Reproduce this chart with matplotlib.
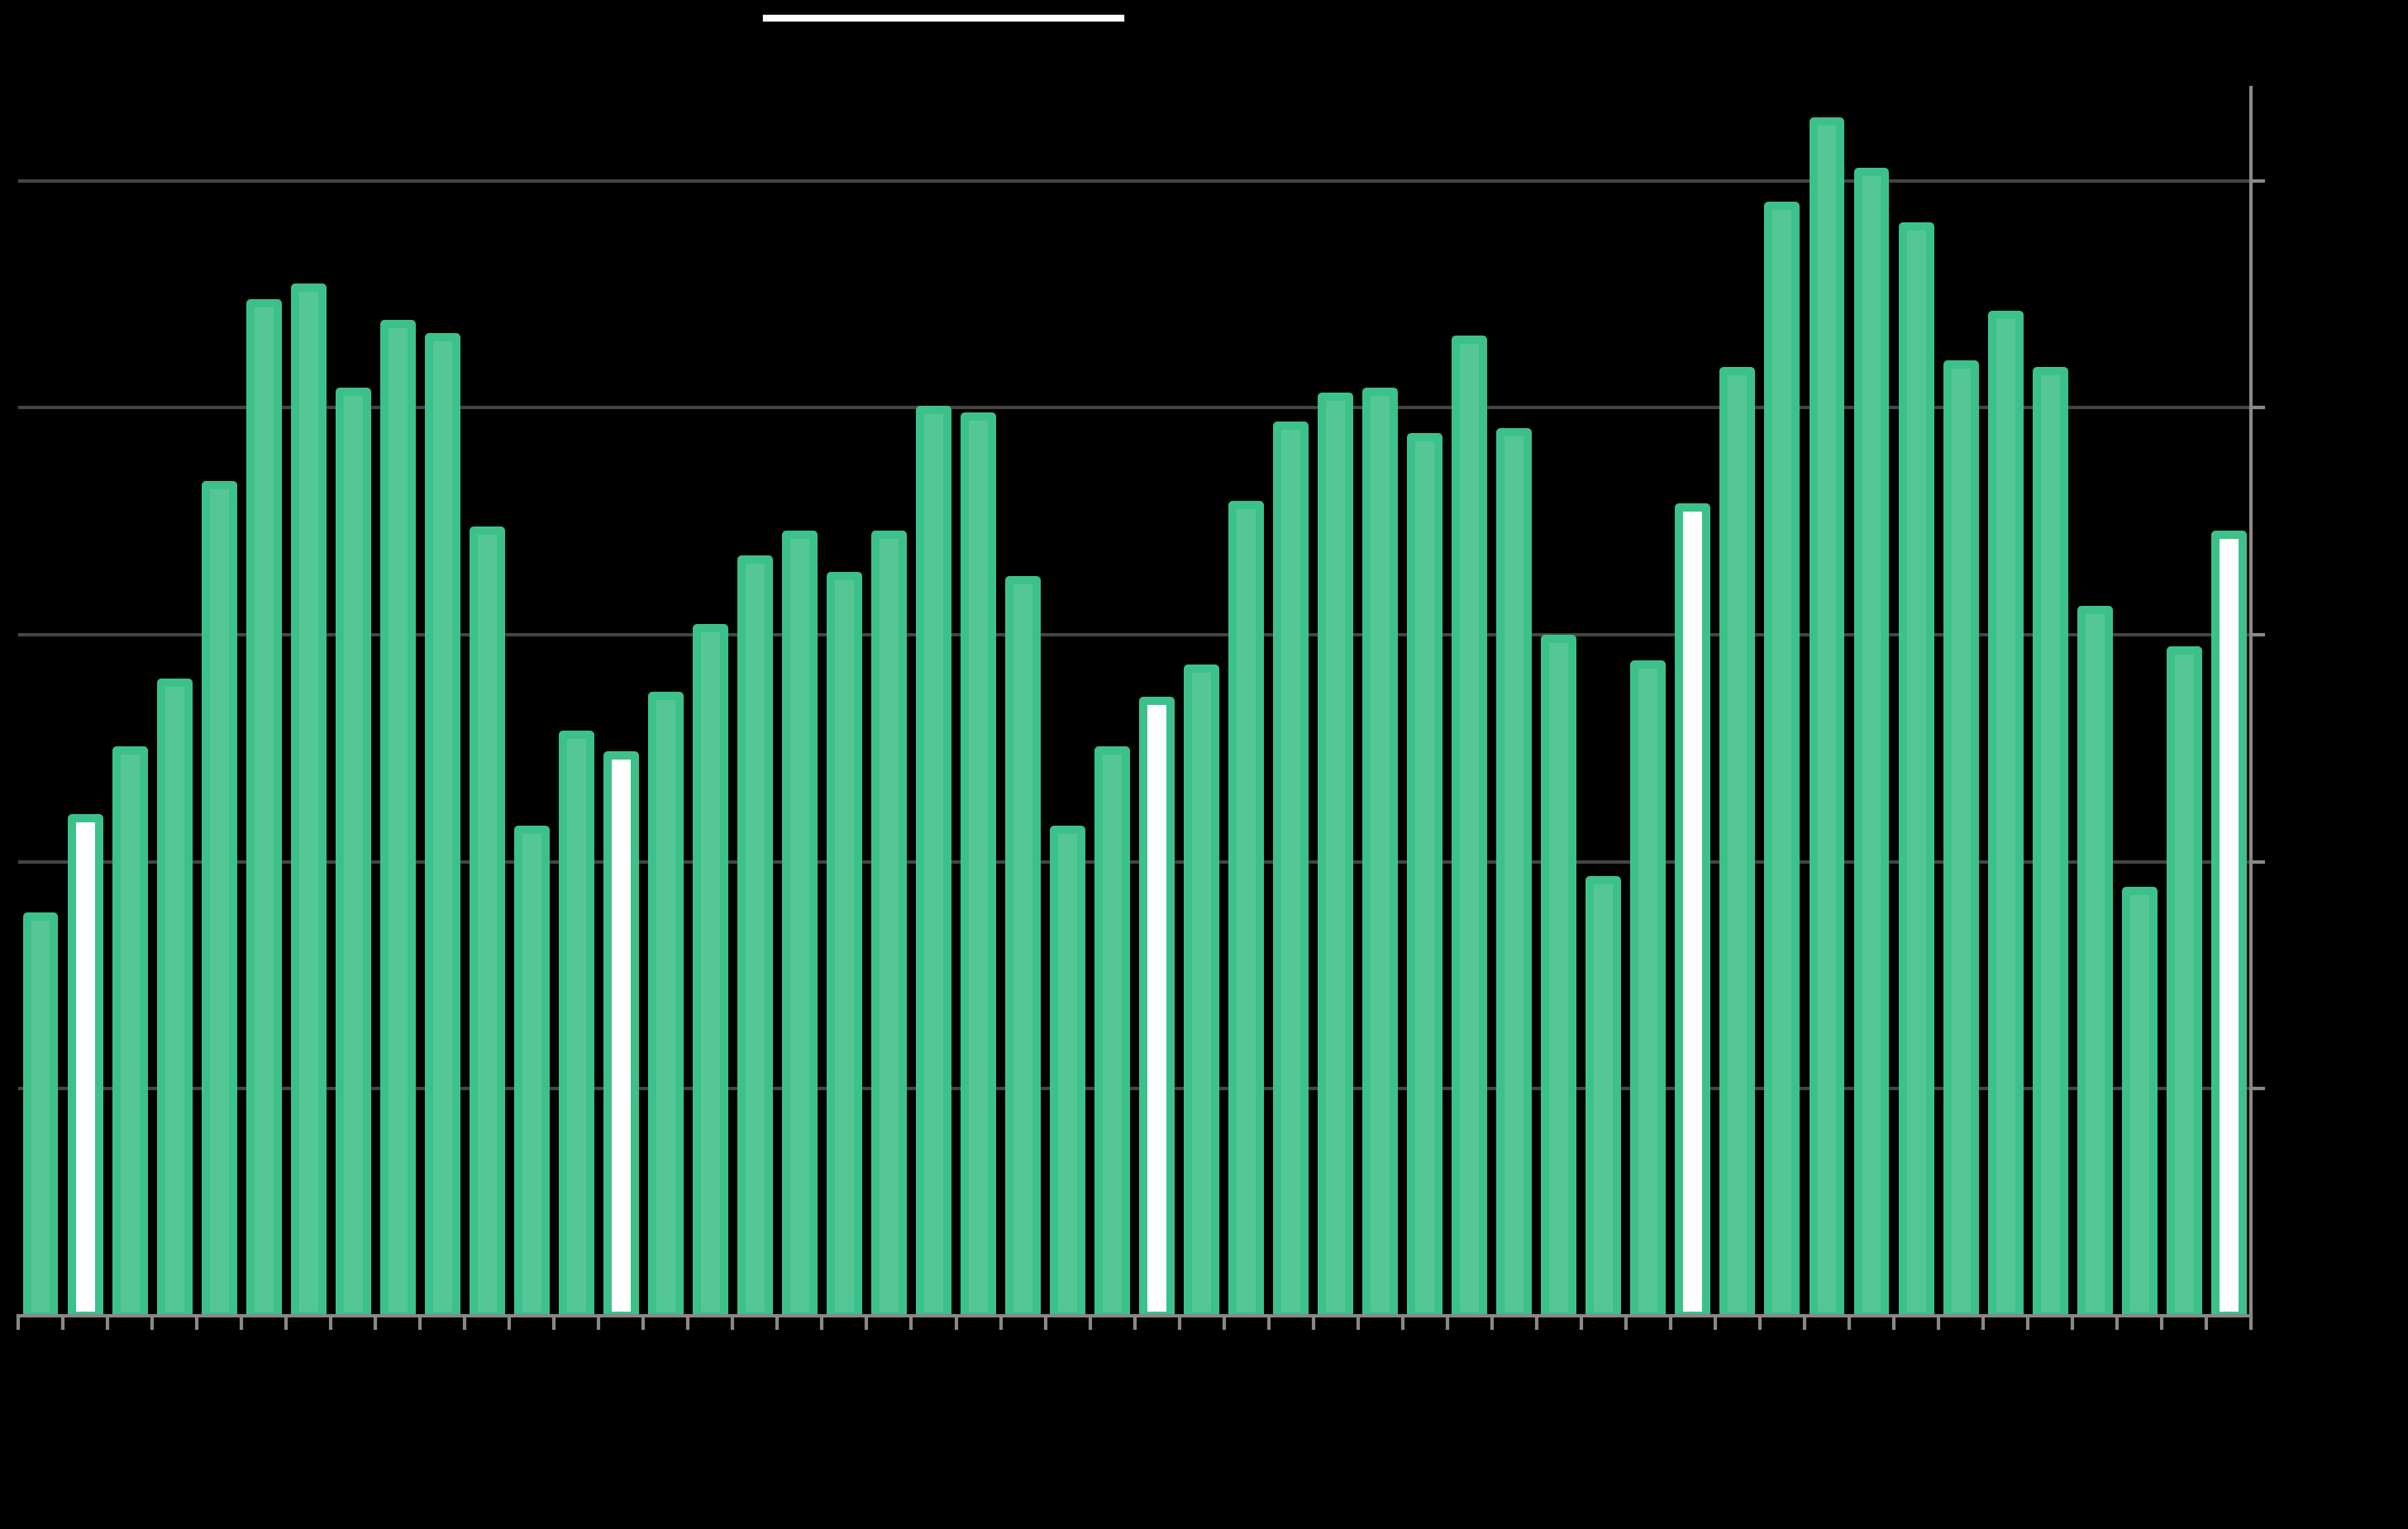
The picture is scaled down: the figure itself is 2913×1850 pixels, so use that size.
import numpy as np
import matplotlib.pyplot as plt

# bar heights, in gridline units
values = [1.76, 2.19, 2.49, 2.79, 3.66, 4.46, 4.53, 4.07, 4.37, 4.31,
          3.46, 2.14, 2.56, 2.47, 2.73, 3.03, 3.33, 3.44, 3.26, 3.44,
          3.99, 3.96, 3.24, 2.14, 2.49, 2.71, 2.85, 3.57, 3.92, 4.05,
          4.07, 3.87, 4.30, 3.89, 2.98, 1.92, 2.87, 3.56, 4.16, 4.89,
          5.26, 5.04, 4.80, 4.19, 4.41, 4.16, 3.11, 1.87, 2.93, 3.44]
highlight = [1, 13, 25, 37, 49]
yticks = [1, 2, 3, 4, 5]

green_edge = "#3dc18a"
green_fill = "#55c797"

fig = plt.figure(figsize=(29.13, 18.5), dpi=100, facecolor="black")
ax = fig.add_axes([0.00755, 0.1395, 0.9273, 0.8032])
ax.set_facecolor("black")

x = np.arange(len(values))
fills = ["white" if i in highlight else green_fill for i in x]
ax.bar(x, values, width=0.61, color=fills, edgecolor=green_edge,
       linewidth=7.2, joinstyle="round", zorder=3)

ax.set_xlim(-0.5, len(values) - 0.5)
ax.set_ylim(0, 5.41)
ax.set_xticks(np.arange(len(values) + 1) - 0.5)
ax.set_xticklabels([])
ax.set_yticks(yticks)
ax.yaxis.tick_right()
ax.tick_params(axis="y", colors="#888888", length=12, width=3, labelcolor="black")
ax.tick_params(axis="x", colors="#888888", length=12, width=3)
ax.grid(axis="y", color="#444444", linewidth=3, zorder=0)

for s in ["left", "top"]:
    ax.spines[s].set_visible(False)
ax.spines["right"].set_color("#888888")
ax.spines["right"].set_linewidth(3)
ax.spines["bottom"].set_color("#888888")
ax.spines["bottom"].set_linewidth(3)
ax.spines["bottom"].set_zorder(4)

# underline under the (black) title
fig.add_artist(plt.Line2D([927 / 2913, 1356 / 2913], [1 - 22 / 1850, 1 - 22 / 1850],
                          color="white", linewidth=6))

fig.savefig("out.png", dpi=100, facecolor="black")
